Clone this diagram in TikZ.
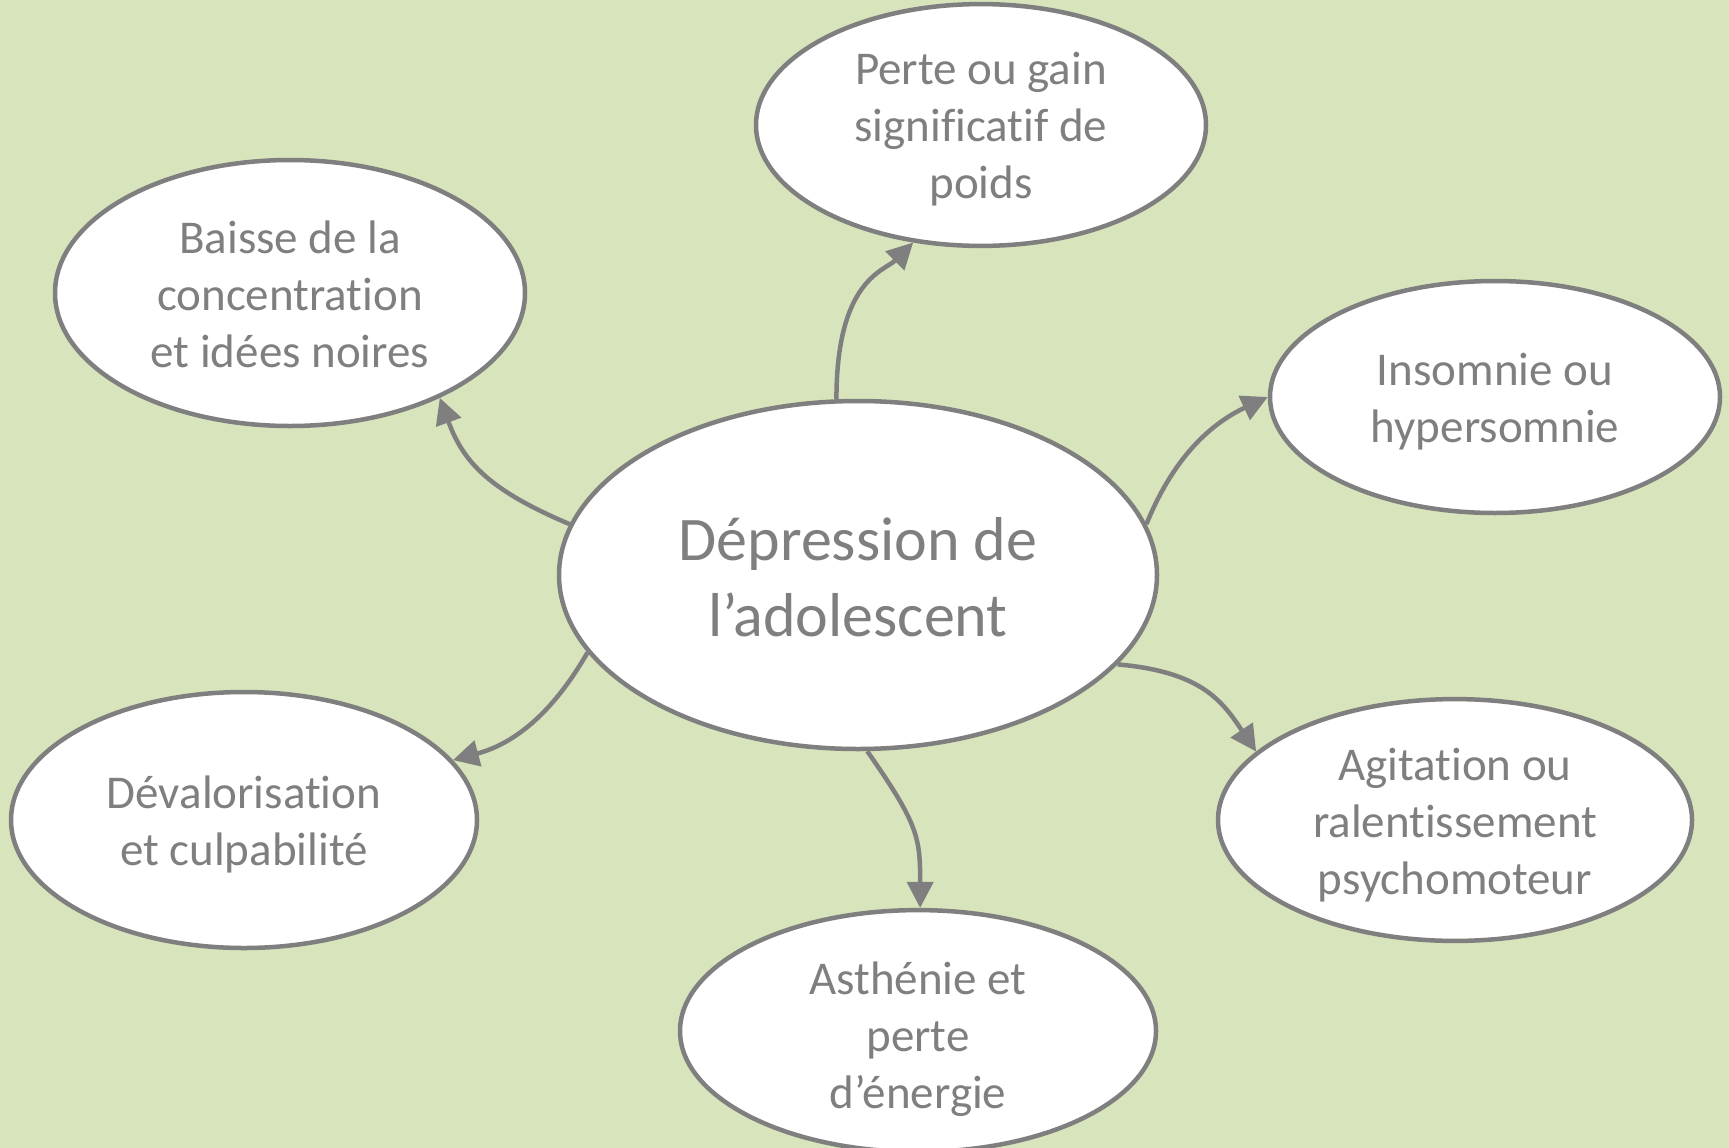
\documentclass[tikz,border=0pt]{standalone}
\usepackage{fontspec}
\setmainfont{Carlito}[Ligatures=NoCommon]
\usetikzlibrary{shapes.geometric,arrows.meta}
\definecolor{bg}{HTML}{D8E4BC}
\definecolor{ln}{HTML}{7F7F7F}
\newcommand\lowtxt[2]{\raisebox{-#1}[\height][\depth]{\begin{tabular}{@{}c@{}}#2\end{tabular}}}
\begin{document}
\begin{tikzpicture}[x=1pt,y=1pt,
  bub/.style={ellipse,draw=ln,fill=white,line width=4.5pt,inner sep=0pt,text=ln,
    font=\fontsize{47}{57}\selectfont},
  conn/.style={draw=ln,line width=4.5pt,-{Triangle[length=26pt,width=26pt]}}]
\fill[bg] (0,0) rectangle (1729,-1148);
\useasboundingbox (0,0) rectangle (1729,-1148);
\node[bub,minimum width=598pt,minimum height=348pt,font=\fontsize{62}{76}\selectfont] (c) at (858,-575) {\lowtxt{8.5pt}{Dépression de\\l’adolescent}};
\node[bub,minimum width=450pt,minimum height=232pt] (p) at (981,-125) {\lowtxt{5pt}{Perte ou gain\\significatif de\\poids}};
\node[bub,minimum width=470pt,minimum height=266pt] (b) at (290,-293) {\lowtxt{6.5pt}{Baisse de la\\concentration\\et idées noires}};
\node[bub,minimum width=450pt,minimum height=232pt] (i) at (1495,-397) {\lowtxt{6pt}{Insomnie ou\\hypersomnie}};
\node[bub,minimum width=466pt,minimum height=256pt] (d) at (244,-820) {\lowtxt{5.5pt}{Dévalorisation\\et culpabilité}};
\node[bub,minimum width=474pt,minimum height=234pt] (a) at (1455,-820) {\lowtxt{6.5pt}{Agitation ou\\ralentissement\\psychomoteur}};
\node[bub,minimum width=476pt,minimum height=230pt] (s) at (918,-1031) {\lowtxt{9.5pt}{Asthénie et\\perte\\d’énergie}};
\draw[conn] (c.97) .. controls +(90:120) and +(225:40) .. (p.240);
\draw[conn] (c.170) .. controls +(157:85) and +(-70:70) .. (b.-35);
\draw[conn] (c.196) .. controls +(240:75) and +(15:60) .. (d.16);
\draw[conn] (c.10) .. controls +(68:75) and +(205:60) .. (i.180);
\draw[conn] (c.-19) .. controls +(-5:85) and +(124:60) .. (a.161);
\draw[conn] (c.-87) .. controls +(-55:90) and +(90:70) .. (s.89);
\end{tikzpicture}
\end{document}
